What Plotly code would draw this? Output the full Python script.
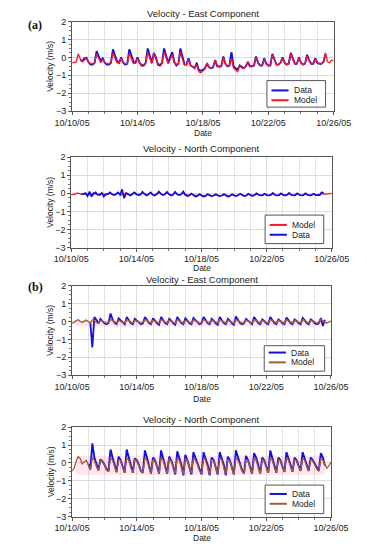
import pandas as pd
import plotly.graph_objects as go

N = None
# 3-hourly samples from 10/10/05 00:00 to 10/26/05 00:00 (129 points)
start_date = "2005-10-10"
end_date = "2005-10-26"
tick_labels_days = 4

p1_data = [
    N, N, N, N, -0.15, -0.20, -0.05, -0.02,
    -0.25, -0.40, -0.40, -0.30, 0.35, 0.05, -0.20, -0.05,
    -0.30, -0.40, -0.40, -0.30, 0.45, 0.10, -0.20, -0.30,
    0.00, -0.30, -0.40, -0.35, 0.45, 0.10, -0.25, -0.30,
    0.00, -0.30, -0.45, -0.45, -0.30, 0.50, 0.10, -0.30,
    0.25, 0.00, -0.40, -0.45, -0.30, 0.50, 0.10, -0.30,
    0.00, 0.30, -0.25, -0.45, -0.35, 0.50, 0.05, -0.40,
    -0.40, -0.05, -0.45, -0.55, -0.60, -0.30, -0.70, -0.75,
    -0.70, -0.60, -0.35, -0.55, -0.60, -0.55, -0.15, -0.50,
    -0.50, -0.50, 0.05, -0.35, -0.50, -0.45, 0.30, -0.50,
    -0.60, -0.70, -0.45, -0.55, -0.60, -0.50, -0.25, -0.50,
    -0.50, -0.45, 0.05, -0.30, -0.45, -0.45, -0.05, -0.35,
    -0.45, -0.45, 0.20, -0.10, -0.40, -0.40, -0.30, 0.00,
    -0.30, -0.40, -0.35, 0.25, -0.05, -0.35, -0.35, 0.00,
    -0.30, -0.40, -0.35, 0.15, -0.15, -0.35, -0.35, -0.05,
    -0.30, -0.35, -0.35, -0.25, 0.20, N, N, N,
    N]
p1_model = [
    -0.30, -0.28, -0.25, 0.20, -0.10, -0.25, -0.15, -0.05,
    -0.25, -0.35, -0.35, -0.30, 0.20, -0.10, -0.30, -0.10,
    -0.30, -0.35, -0.35, -0.30, 0.25, -0.05, -0.30, -0.30,
    -0.05, -0.30, -0.35, -0.35, 0.25, -0.05, -0.35, -0.30,
    -0.05, -0.30, -0.40, -0.40, -0.30, 0.30, -0.05, -0.35,
    0.20, -0.10, -0.35, -0.40, -0.30, 0.30, -0.05, -0.35,
    -0.10, 0.15, -0.30, -0.40, -0.35, 0.30, -0.10, -0.40,
    -0.40, -0.10, -0.45, -0.55, -0.60, -0.40, -0.80, -0.85,
    -0.75, -0.65, -0.30, -0.55, -0.60, -0.55, -0.15, -0.45,
    -0.55, -0.50, 0.00, -0.35, -0.50, -0.45, -0.05, -0.60,
    -0.70, -0.80, -0.45, -0.60, -0.60, -0.50, -0.25, -0.45,
    -0.50, -0.45, 0.00, -0.30, -0.45, -0.45, -0.10, -0.35,
    -0.45, -0.45, 0.15, -0.15, -0.40, -0.40, -0.30, -0.05,
    -0.30, -0.40, -0.35, 0.20, -0.10, -0.35, -0.35, -0.05,
    -0.30, -0.40, -0.35, 0.10, -0.20, -0.35, -0.35, -0.10,
    -0.30, -0.35, -0.35, -0.25, 0.25, -0.25, -0.30, -0.15,
    -0.20]

p2_model = [
    -0.08, -0.06, -0.05, 0.02, -0.04, -0.06, -0.04, 0.00,
    -0.05, -0.08, -0.06, 0.03, -0.04, -0.07, -0.05, 0.02,
    -0.05, -0.08, -0.06, 0.04, -0.04, -0.07, -0.05, 0.03,
    -0.05, -0.08, -0.06, 0.04, -0.04, -0.08, -0.05, 0.03,
    -0.06, -0.08, -0.06, 0.05, -0.04, -0.08, -0.05, 0.04,
    -0.06, -0.09, -0.06, 0.05, -0.05, -0.08, -0.05, 0.04,
    -0.06, -0.09, -0.07, 0.05, -0.05, -0.09, -0.06, 0.03,
    -0.08, -0.11, -0.10, -0.02, -0.08, -0.12, -0.10, -0.04,
    -0.10, -0.13, -0.11, -0.04, -0.09, -0.13, -0.11, -0.05,
    -0.10, -0.13, -0.11, -0.04, -0.09, -0.13, -0.11, -0.05,
    -0.10, -0.13, -0.11, -0.04, -0.09, -0.13, -0.11, -0.04,
    -0.09, -0.12, -0.10, -0.03, -0.08, -0.12, -0.10, -0.03,
    -0.09, -0.12, -0.10, -0.02, -0.08, -0.12, -0.10, -0.03,
    -0.08, -0.11, -0.09, -0.02, -0.08, -0.11, -0.09, -0.02,
    -0.08, -0.11, -0.09, -0.02, -0.07, -0.11, -0.09, -0.02,
    -0.08, -0.10, -0.08, -0.01, -0.05, -0.06, -0.03, -0.01,
    0.00]
p2_data = [
    N, N, N, N, N, -0.05, -0.03, 0.00,
    -0.15, 0.10, -0.18, -0.02, 0.05, -0.08, -0.10, 0.02,
    -0.18, -0.05, -0.05, 0.05, -0.05, -0.10, -0.05, 0.05,
    -0.08, 0.22, -0.27, 0.00, -0.05, -0.12, -0.05, 0.05,
    -0.05, -0.10, -0.08, 0.08, -0.05, -0.12, -0.05, 0.05,
    -0.08, -0.12, -0.05, 0.10, -0.02, -0.10, -0.05, 0.08,
    -0.05, -0.12, -0.08, 0.08, -0.05, -0.10, -0.05, 0.10,
    -0.08, -0.15, -0.12, -0.02, -0.10, -0.18, -0.15, -0.05,
    -0.12, -0.18, -0.15, -0.05, -0.12, -0.15, -0.12, -0.05,
    -0.12, -0.15, -0.12, -0.05, -0.12, -0.18, -0.15, -0.05,
    -0.12, -0.15, -0.10, -0.02, -0.10, -0.15, -0.12, -0.03,
    -0.10, -0.15, -0.10, 0.00, -0.08, -0.12, -0.10, -0.02,
    -0.10, -0.12, -0.08, 0.02, -0.08, -0.12, -0.10, 0.00,
    -0.08, -0.12, -0.08, 0.02, -0.08, -0.12, -0.10, 0.00,
    -0.08, -0.12, -0.10, 0.00, -0.08, -0.12, -0.10, -0.02,
    -0.10, -0.12, -0.10, 0.05, 0.00, N, N, N,
    N]

p3_data = [
    N, N, N, N, N, N, N, N,
    N, -0.05, -1.45, 0.25, 0.10, -0.12, 0.15, 0.02,
    -0.10, -0.15, -0.08, 0.45, 0.12, -0.08, -0.15, 0.18,
    0.05, -0.08, -0.15, 0.25, 0.10, -0.08, -0.15, 0.15,
    0.05, -0.08, -0.15, -0.10, 0.25, 0.10, -0.08, -0.15,
    0.18, 0.05, -0.10, -0.18, 0.25, 0.08, -0.08, -0.15,
    0.15, 0.05, -0.10, -0.18, 0.25, 0.08, -0.08, -0.15,
    0.18, 0.05, -0.10, -0.15, 0.20, 0.08, -0.05, -0.15,
    -0.10, 0.25, 0.10, -0.08, -0.15, 0.15, 0.05, -0.10,
    -0.18, 0.25, 0.08, -0.08, -0.15, 0.15, 0.05, -0.10,
    -0.18, 0.28, 0.10, -0.08, -0.15, -0.10, 0.15, 0.05,
    -0.10, -0.15, 0.25, 0.08, -0.08, -0.15, 0.12, 0.03,
    -0.10, -0.15, 0.25, 0.08, -0.08, -0.15, 0.12, 0.03,
    -0.10, -0.15, 0.22, 0.08, -0.08, -0.15, 0.12, 0.03,
    -0.10, -0.15, 0.20, 0.08, -0.08, -0.15, 0.12, 0.03,
    -0.10, -0.15, -0.10, 0.20, -0.25, 0.10, N, N,
    N]
p3_model = [
    -0.10, -0.05, 0.05, 0.10, 0.02, -0.05, 0.02, 0.08,
    0.00, -0.08, 0.10, 0.05, -0.05, -0.08, 0.08, 0.02,
    -0.06, -0.10, -0.05, 0.12, 0.05, -0.05, -0.10, 0.08,
    0.02, -0.06, -0.10, 0.12, 0.05, -0.05, -0.10, 0.07,
    0.02, -0.06, -0.10, -0.05, 0.12, 0.05, -0.05, -0.10,
    0.08, 0.02, -0.06, -0.10, 0.11, 0.05, -0.05, -0.10,
    0.08, 0.02, -0.06, -0.11, 0.12, 0.05, -0.05, -0.10,
    0.07, 0.02, -0.06, -0.10, 0.10, 0.04, -0.05, -0.10,
    -0.06, 0.12, 0.05, -0.05, -0.11, 0.08, 0.02, -0.06,
    -0.10, 0.12, 0.05, -0.05, -0.10, 0.08, 0.02, -0.06,
    -0.11, 0.12, 0.05, -0.05, -0.10, -0.06, 0.08, 0.02,
    -0.06, -0.10, 0.12, 0.05, -0.05, -0.10, 0.07, 0.02,
    -0.06, -0.10, 0.12, 0.05, -0.05, -0.10, 0.08, 0.02,
    -0.06, -0.10, 0.11, 0.05, -0.05, -0.10, 0.08, 0.02,
    -0.06, -0.10, 0.12, 0.05, -0.05, -0.10, 0.08, 0.02,
    -0.06, -0.10, -0.06, 0.12, 0.05, -0.05, -0.08, -0.02,
    0.02]

p4_data = [
    N, N, N, N, N, N, N, N,
    -0.05, -0.35, 1.10, 0.30, -0.05, -0.40, 0.20, 0.10,
    -0.10, -0.35, -0.45, 0.75, 0.30, -0.10, -0.50, 0.35,
    0.15, -0.20, -0.55, 0.75, 0.30, -0.10, -0.55, 0.25,
    0.15, -0.10, -0.45, -0.55, 0.70, 0.30, -0.10, -0.60,
    0.30, 0.15, -0.20, -0.60, 0.70, 0.30, -0.10, -0.60,
    0.35, 0.15, -0.20, -0.65, 0.65, 0.30, -0.10, -0.70,
    0.45, 0.15, -0.20, -0.65, 0.60, 0.30, 0.00, -0.40,
    -0.65, 0.60, 0.30, -0.10, -0.70, 0.30, 0.15, -0.20,
    -0.65, 0.60, 0.30, -0.10, -0.70, 0.35, 0.15, -0.20,
    -0.65, 0.70, 0.30, 0.00, -0.40, -0.60, 0.40, 0.15,
    -0.20, -0.60, 0.55, 0.30, -0.10, -0.60, 0.30, 0.15,
    -0.20, -0.55, 0.70, 0.30, -0.10, -0.55, 0.30, 0.15,
    -0.20, -0.50, 0.60, 0.30, -0.10, -0.50, 0.30, 0.15,
    -0.15, -0.45, 0.60, 0.30, -0.10, -0.45, 0.30, 0.15,
    -0.05, -0.30, -0.45, 0.55, 0.30, -0.15, N, N,
    N]
p4_model = [
    -0.45, -0.30, 0.10, 0.35, 0.25, -0.05, 0.05, 0.15,
    -0.10, -0.40, 0.30, 0.15, -0.20, -0.45, 0.15, 0.10,
    -0.10, -0.40, -0.50, 0.30, 0.15, -0.25, -0.55, 0.20,
    0.10, -0.25, -0.55, 0.30, 0.15, -0.25, -0.55, 0.20,
    0.10, -0.15, -0.45, -0.55, 0.30, 0.15, -0.25, -0.60,
    0.20, 0.10, -0.25, -0.60, 0.30, 0.15, -0.25, -0.60,
    0.25, 0.10, -0.25, -0.60, 0.30, 0.15, -0.25, -0.65,
    0.25, 0.10, -0.25, -0.60, 0.30, 0.15, -0.10, -0.45,
    -0.60, 0.30, 0.15, -0.25, -0.65, 0.20, 0.10, -0.25,
    -0.65, 0.30, 0.15, -0.25, -0.65, 0.20, 0.10, -0.25,
    -0.65, 0.30, 0.15, -0.10, -0.45, -0.60, 0.20, 0.10,
    -0.25, -0.60, 0.30, 0.15, -0.25, -0.60, 0.20, 0.10,
    -0.25, -0.55, 0.30, 0.15, -0.25, -0.55, 0.20, 0.10,
    -0.25, -0.50, 0.30, 0.15, -0.20, -0.50, 0.20, 0.10,
    -0.20, -0.45, 0.25, 0.15, -0.20, -0.45, 0.20, 0.10,
    -0.10, -0.35, -0.45, 0.25, 0.15, -0.10, -0.30, -0.15,
    0.05]

# faint pink envelope seen behind the (b) panels
band_dates = ["2005-10-10 05:00", "2005-10-25 15:00"]
p3_band_lo = [-0.28, -0.28]
p3_band_hi = [0.02, 0.02]
p4_band_lo = [-0.68, -0.68]
p4_band_hi = [0.40, 0.40]

titles = ["Velocity - East Component", "Velocity - North Component",
          "Velocity - East Component", "Velocity - North Component"]

times = pd.date_range(start_date, periods=129, freq="3h")

BLUE = "#1010e0"
RED = "#ff1426"
BROWN = "#a85a36"
W, H = 367, 550


def px(x):
    return x / W


def py(y):
    return 1 - y / H


# panel geometry in pixels: x0, x1, ytop, ybottom, title_y, date_y
panels = [
    (60, 350, 17, 108, 9, 130),
    (59, 348, 155, 247, 146, 268),
    (60, 347, 286, 377, 280, 401),
    (60, 347, 430, 521, 422, 543),
]
# legend boxes in pixels: x0, x1, y0, y1, entry ys, line x0, line x1, text x
legend_boxes = [
    (276, 341, 77, 104, (87, 97), 281, 300, 304),
    (274, 339, 214, 243, (224, 234), 279, 298, 302),
    (273, 340, 347, 373, (354, 364), 278, 297, 300),
    (274, 339, 489, 518, (498, 508), 279, 298, 302),
]

series = [
    [("Data", p1_data, BLUE, 1.9), ("Model", p1_model, RED, 1.3)],
    [("Model", p2_model, RED, 1.3), ("Data", p2_data, BLUE, 1.7)],
    [("Data", p3_data, BLUE, 1.8), ("Model", p3_model, BROWN, 1.3)],
    [("Data", p4_data, BLUE, 1.9), ("Model", p4_model, BROWN, 1.3)],
]
bands = [None, None, (p3_band_lo, p3_band_hi), (p4_band_lo, p4_band_hi)]

FONT = "Liberation Sans, Arial, sans-serif"
TXT = "#222"
fig = go.Figure()
annotations = []
shapes = []
layout = dict(width=W, height=H, margin=dict(l=0, r=0, t=0, b=0),
              paper_bgcolor="white", plot_bgcolor="white", showlegend=False,
              font=dict(family=FONT, size=9, color=TXT))

for i, (x0, x1, yt, yb, ty, dy) in enumerate(panels):
    n = "" if i == 0 else str(i + 1)
    xa, ya = "x" + n, "y" + n
    if bands[i] is not None:
        lo, hi = bands[i]
        fig.add_trace(go.Scatter(x=band_dates, y=lo, mode="lines", line=dict(width=0),
                                 xaxis=xa, yaxis=ya, showlegend=False, hoverinfo="skip"))
        fig.add_trace(go.Scatter(x=band_dates, y=hi, mode="lines", line=dict(width=0),
                                 fill="tonexty", fillcolor="rgba(255,120,170,0.18)",
                                 xaxis=xa, yaxis=ya, showlegend=False, hoverinfo="skip"))
    for name, vals, col, lw in series[i]:
        fig.add_trace(go.Scatter(x=times, y=vals, mode="lines", name=name,
                                 line=dict(color=col, width=lw), showlegend=False,
                                 xaxis=xa, yaxis=ya, connectgaps=False))
    layout["xaxis" + n] = dict(
        domain=[px(x0), px(x1)], anchor=ya, type="date",
        range=[start_date, end_date], tick0=start_date,
        dtick=tick_labels_days * 86400000, tickformat="%m/%d/%y",
        ticks="outside", ticklen=3, tickcolor="#555", showline=True,
        linecolor="#555", linewidth=1, mirror=True, showgrid=True,
        gridcolor="#dcdcdc", zeroline=False, tickfont=dict(size=9, color=TXT),
        minor=dict(dtick=86400000, showgrid=True, gridcolor="#e3e3e3",
                   ticks="outside", ticklen=2, tickcolor="#777"))
    layout["yaxis" + n] = dict(
        domain=[py(yb), py(yt)], anchor=xa, range=[-3, 2], dtick=1,
        ticks="outside", ticklen=3, tickcolor="#555", showline=True,
        linecolor="#555", linewidth=1, mirror=True, showgrid=True,
        gridcolor="#dcdcdc", zeroline=False, tickfont=dict(size=9, color=TXT),
        minor=dict(dtick=0.25, ticks="outside", ticklen=2, tickcolor="#777"))
    annotations.append(dict(text=titles[i], x=px((x0 + x1) / 2), y=py(ty),
                            xref="paper", yref="paper", showarrow=False,
                            font=dict(size=9.5, family=FONT, color=TXT),
                            xanchor="center", yanchor="middle"))
    annotations.append(dict(text="Date", x=px((x0 + x1) / 2), y=py(dy),
                            xref="paper", yref="paper", showarrow=False,
                            font=dict(size=8.5, family=FONT, color=TXT),
                            xanchor="center", yanchor="middle"))
    annotations.append(dict(text="Velocity (m/s)", x=px(36), y=py((yt + yb) / 2),
                            xref="paper", yref="paper", showarrow=False,
                            textangle=-90,
                            font=dict(size=8.5, family=FONT, color=TXT),
                            xanchor="center", yanchor="middle"))
    # legend box drawn in the page (paper) frame
    bx0, bx1, by0, by1, eys, lx0, lx1, tx = legend_boxes[i]
    shapes.append(dict(type="rect", xref="paper", yref="paper",
                       x0=px(bx0), x1=px(bx1), y0=py(by1), y1=py(by0),
                       fillcolor="white", line=dict(color="#555", width=1),
                       layer="above"))
    for (name, _, col, _lw), ey in zip(series[i], eys):
        shapes.append(dict(type="line", xref="paper", yref="paper",
                           x0=px(lx0), x1=px(lx1), y0=py(ey), y1=py(ey),
                           line=dict(color=col, width=2), layer="above"))
        annotations.append(dict(text=name, x=px(tx), y=py(ey),
                                xref="paper", yref="paper", showarrow=False,
                                font=dict(size=8.5, family=FONT, color=TXT),
                                xanchor="left", yanchor="middle"))

for lab, yy in [("(a)", 20), ("(b)", 287)]:
    annotations.append(dict(text="<b>" + lab + "</b>", x=px(9), y=py(yy),
                            xref="paper", yref="paper", showarrow=False,
                            font=dict(size=12, family="Liberation Serif, Times New Roman, serif",
                                      color="#111"),
                            xanchor="left", yanchor="middle"))

layout["annotations"] = annotations
layout["shapes"] = shapes
fig.update_layout(**layout)
fig.write_html("out.html", config={"displayModeBar": False},
               post_script="document.body.style.margin='0px';document.body.style.overflow='hidden';")
